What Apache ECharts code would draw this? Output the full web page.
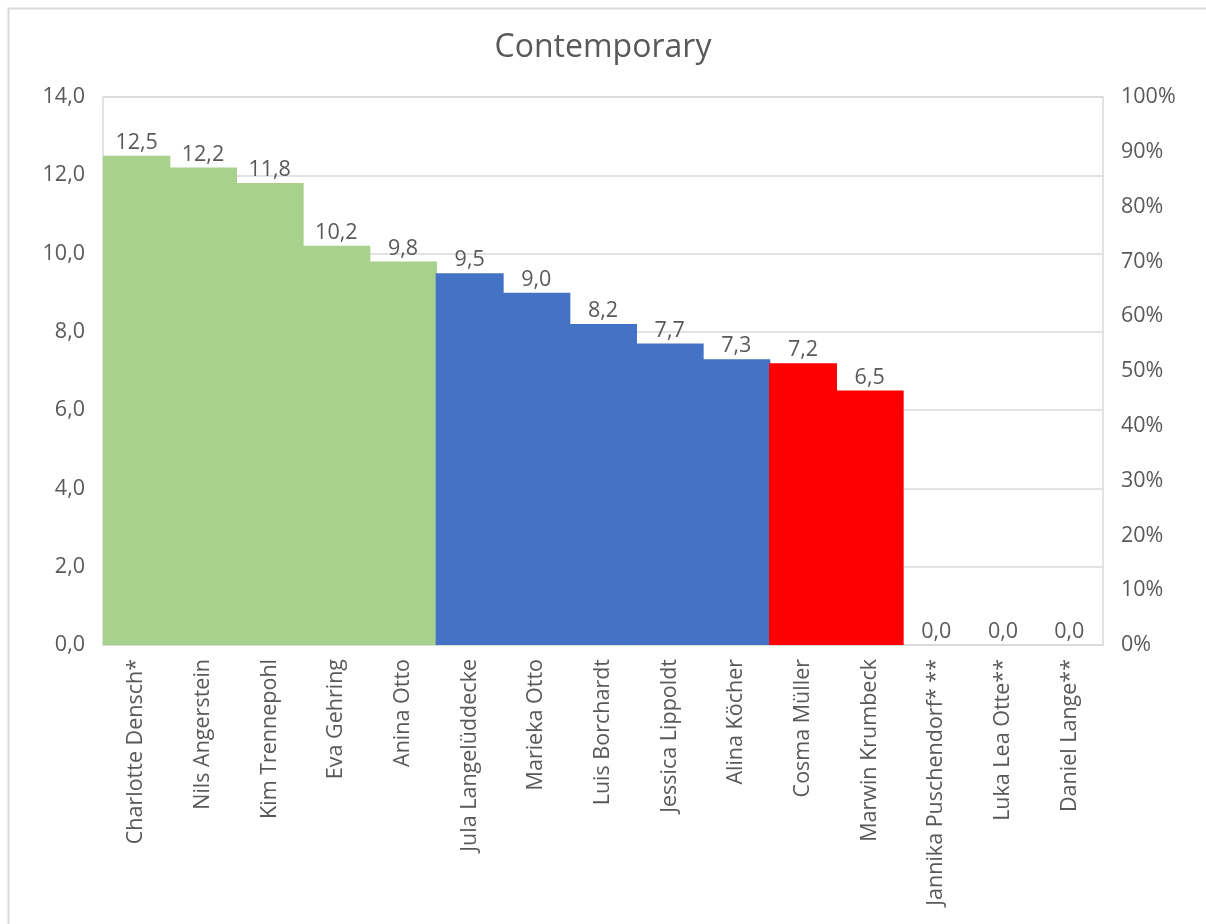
<!DOCTYPE html>
<html><head><meta charset="utf-8">
<script src="https://cdn.jsdelivr.net/npm/echarts@6/dist/echarts.min.js"></script>
<style>html,body{margin:0;padding:0;background:#fff}#c{width:1206px;height:924px}</style>
</head><body><div id="c"></div>
<script>
const categories = ["Charlotte Densch*","Nils Angerstein","Kim Trennepohl","Eva Gehring","Anina Otto","Jula Langelüddecke","Marieka Otto","Luis Borchardt","Jessica Lippoldt","Alina Köcher","Cosma Müller","Marwin Krumbeck","Jannika Puschendorf* **","Luka Lea Otte**","Daniel Lange**"];
const values = [12.5,12.2,11.8,10.2,9.8,9.5,9.0,8.2,7.7,7.3,7.2,6.5,0,0,0];
const groups = ["g","g","g","g","g","b","b","b","b","b","r","r","r","r","r"];
const groupColors = {g:"#A9D18E", b:"#4472C4", r:"#FF0000"};
const leftTicks = {min:0, max:14, interval:2};
const rightTicks = {min:0, max:1, interval:0.1};
const title = "Contemporary";

const font = "Open Sans";
const fs = 21.5;
const chart = echarts.init(document.getElementById('c'));
chart.setOption({
  animation:false,
  textStyle:{fontFamily:font},
  title:{text:title, left:'center', top:27, textStyle:{fontFamily:font, fontSize:32, fontWeight:'normal', color:'#595959'}},
  graphic:[{type:'rect', shape:{x:8.5,y:8.5,width:1300,height:1000}, style:{fill:null, stroke:'#d9d9d9', lineWidth:2}, silent:true}],
  grid:{left:103, right:103, top:97, bottom:279, show:true, borderColor:'#d9d9d9', borderWidth:1.5, containLabel:false},
  xAxis:{type:'category', data:categories,
    axisLine:{show:false}, axisTick:{show:false},
    axisLabel:{rotate:90, interval:0, fontSize:fs, color:'#595959', margin:14, fontFamily:font}},
  yAxis:[
    {type:'value', min:leftTicks.min, max:leftTicks.max, interval:leftTicks.interval,
     axisLine:{show:false}, axisTick:{show:false},
     splitLine:{lineStyle:{color:'#d9d9d9', width:1.5}},
     axisLabel:{fontSize:fs, color:'#595959', margin:18, fontFamily:font, formatter:v=>v.toFixed(1).replace('.',',')}},
    {type:'value', min:rightTicks.min, max:rightTicks.max, interval:rightTicks.interval, position:'right',
     axisLine:{show:false}, axisTick:{show:false}, splitLine:{show:false},
     axisLabel:{fontSize:fs, color:'#595959', margin:18, fontFamily:font, formatter:v=>Math.round(v*100)+'%'}}
  ],
  series:[{type:'bar', barWidth:'102%', yAxisIndex:0,
    data: values.map((v,i)=>({value:v, itemStyle:{color:groupColors[groups[i]]}})),
    label:{show:true, position:'top', fontSize:fs, color:'#595959', fontFamily:font, distance:2,
      formatter:p=>p.value.toFixed(1).replace('.',',')}
  }]
});
</script></body></html>
